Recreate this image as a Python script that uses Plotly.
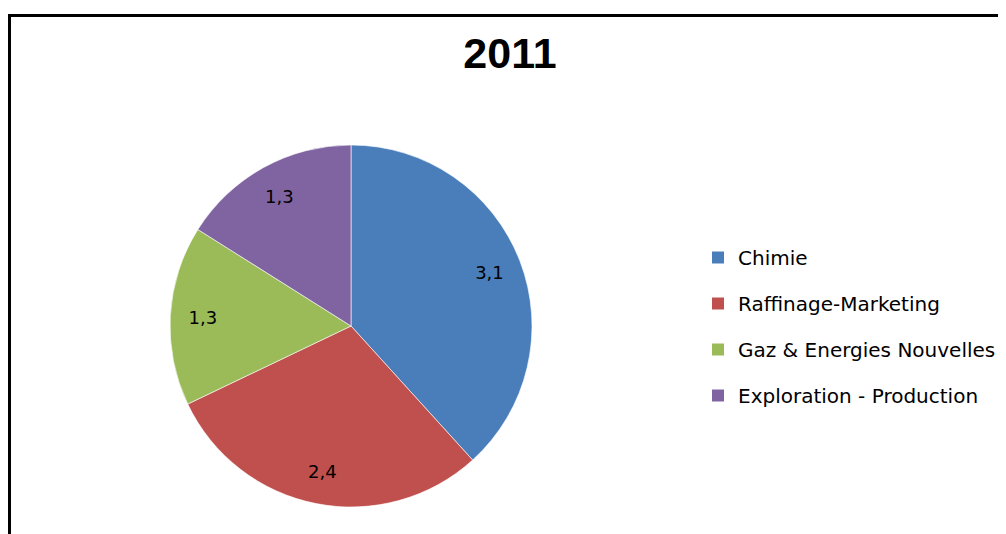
import plotly.graph_objects as go

title = "2011"
categories = ["Chimie", "Raffinage-Marketing", "Gaz & Energies Nouvelles", "Exploration - Production"]
values = [3.1, 2.4, 1.3, 1.3]
colors = ["#4A7EBB", "#C0504D", "#9BBB59", "#8064A2"]

W, H = 1006, 534
OX, OY = 8, 8  # page body margin compensation


def px(x):
    return (x - OX) / W


def py(y):
    return 1 - (y - OY) / H


dom = dict(x=[px(170), px(532)], y=[py(507), py(145)])

# filled pie (no text)
fig = go.Figure()
fig.add_trace(go.Pie(
    labels=categories, values=values, sort=False, direction="clockwise", rotation=0,
    marker=dict(colors=colors, line=dict(color="rgba(255,255,255,0.6)", width=1)),
    textinfo="none", showlegend=False, domain=dom,
))
# transparent ring carrying the data labels near the rim
fig.add_trace(go.Pie(
    labels=categories, values=values, sort=False, direction="clockwise", rotation=0,
    hole=0.64,
    marker=dict(colors=["rgba(0,0,0,0)"] * len(values), line=dict(width=0)),
    texttemplate="%{value:.1f}", textposition="inside", insidetextorientation="horizontal",
    insidetextfont=dict(family="DejaVu Sans", size=18, color="black"),
    hoverinfo="skip", showlegend=False, domain=dom,
))

# legend entries
for i, (cat, col) in enumerate(zip(categories, colors)):
    fig.add_trace(go.Scatter(
        x=[None], y=[None], mode="markers", name=cat,
        marker=dict(symbol="square", size=12, color=col),
        legendgroup=f"g{i}", showlegend=True,
    ))

fig.update_layout(
    width=W, height=H,
    margin=dict(l=0, r=0, t=0, b=0),
    paper_bgcolor="white", plot_bgcolor="white",
    separators=", ",
    xaxis=dict(visible=False), yaxis=dict(visible=False),
    title=dict(text=f"<b>{title}</b>", x=px(510), xanchor="center", y=py(53), yanchor="middle",
               font=dict(family="Liberation Sans", size=43, color="black")),
    legend=dict(x=px(698), xanchor="left", y=py(238), yanchor="top",
                font=dict(family="DejaVu Sans", size=20, color="black"),
                tracegroupgap=17, bgcolor="rgba(0,0,0,0)", itemclick=False),
    shapes=[dict(type="rect", xref="paper", yref="paper",
                 x0=px(9.5), x1=1.05, y0=-0.05, y1=py(15.5),
                 line=dict(color="black", width=3), fillcolor="rgba(0,0,0,0)")],
)

fig.write_html("out.html")
